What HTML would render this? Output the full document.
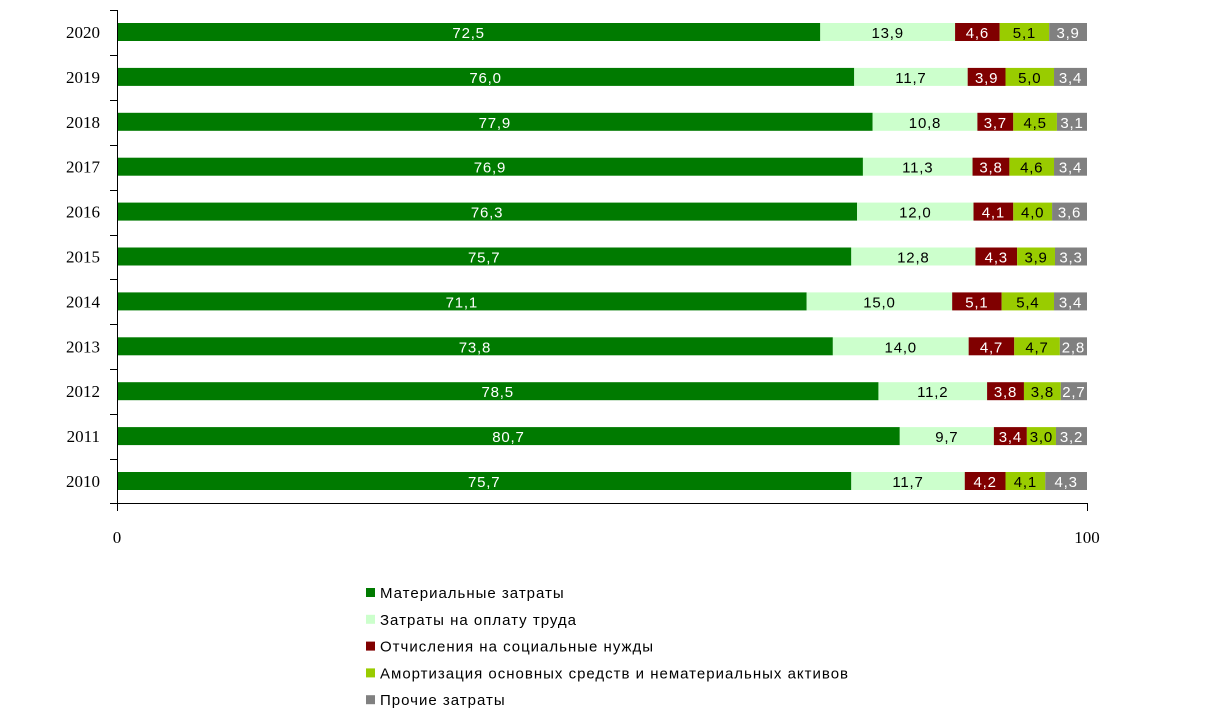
<!DOCTYPE html>
<html><head><meta charset="utf-8"><style>
body{margin:0;background:#fff;}
</style></head><body>
<svg id="s" width="1210" height="721" xmlns="http://www.w3.org/2000/svg" font-family="Liberation Sans, sans-serif"></svg>
<script>
var d=[[2020,72.5,13.9,4.6,5.1,3.9],[2019,76.0,11.7,3.9,5.0,3.4],[2018,77.9,10.8,3.7,4.5,3.1],[2017,76.9,11.3,3.8,4.6,3.4],[2016,76.3,12.0,4.1,4.0,3.6],[2015,75.7,12.8,4.3,3.9,3.3],[2014,71.1,15.0,5.1,5.4,3.4],[2013,73.8,14.0,4.7,4.7,2.8],[2012,78.5,11.2,3.8,3.8,2.7],[2011,80.7,9.7,3.4,3.0,3.2],[2010,75.7,11.7,4.2,4.1,4.3]];
var col=["#007a00","#ccffcc","#800000","#99cc00","#808080"];
var tc=["#fff","#000","#fff","#000","#fff"];
var x0=117,w=970,h="";
d.forEach(function(r,i){
 var cy=32+i*44.9,y=cy-9;
 var sum=0;for(var k=1;k<6;k++)sum+=r[k];
 var x=x0;
 h+='<text x="100" y="'+(cy+6)+'" text-anchor="end" font-family="Liberation Serif, serif" font-size="17">'+r[0]+'</text>';
 for(var k=1;k<6;k++){
  var ww=r[k]/sum*w;
  h+='<rect x="'+x+'" y="'+y+'" width="'+ww+'" height="18" fill="'+col[k-1]+'"/>';
  h+='<text x="'+(x+ww/2)+'" y="'+(cy+6)+'" text-anchor="middle" font-size="15" letter-spacing="0.8" fill="'+tc[k-1]+'">'+r[k].toFixed(1).replace('.',',')+'</text>';
  x+=ww;
 }
});
h+='<line x1="117.5" y1="10" x2="117.5" y2="511" stroke="#000"/>';
for(var i=0;i<11;i++){var ty=Math.round(10+i*44.9)+0.5;h+='<line x1="110" y1="'+ty+'" x2="117" y2="'+ty+'" stroke="#000"/>';}
h+='<line x1="110" y1="503.5" x2="1087" y2="503.5" stroke="#000"/>';
h+='<line x1="1087.5" y1="503" x2="1087.5" y2="511" stroke="#000"/>';
h+='<text x="117" y="543" text-anchor="middle" font-family="Liberation Serif, serif" font-size="17">0</text>';
h+='<text x="1087" y="543" text-anchor="middle" font-family="Liberation Serif, serif" font-size="17">100</text>';
var lg=["Материальные затраты","Затраты на оплату труда","Отчисления на социальные нужды","Амортизация основных средств и нематериальных активов","Прочие затраты"];
lg.forEach(function(t,i){var y=593+i*26.8;
 h+='<rect x="366" y="'+(y-5)+'" width="9" height="9" fill="'+col[i]+'"/>';
 h+='<text x="380" y="'+(y+5)+'" font-size="15" letter-spacing="1">'+t+'</text>';});
document.getElementById('s').innerHTML=h;
</script>
</body></html>
